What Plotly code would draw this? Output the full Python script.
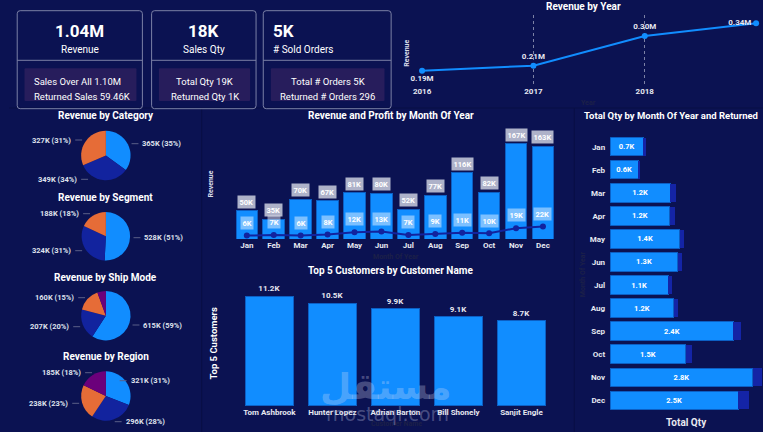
import plotly.graph_objects as go

W, H = 763, 432
def px(x): return x / W
def py(y): return 1 - y / H

BG = "#0b1252"
BLUE = "#118dff"; DBLUE = "#12239e"; ORANGE = "#e66c37"; PURPLE = "#6b007b"
FONT = "Roboto, 'Open Sans', 'DejaVu Sans', sans-serif"
DARKTXT = "#1c2048"

# ---------------- data ----------------
kpi_values = ["1.04M", "18K", "5K"]
kpi_names = ["Revenue", "Sales Qty", "# Sold Orders"]
kpi_line1 = ["Sales Over All 1.10M", "Total Qty 19K", "Total # Orders 5K"]
kpi_line2 = ["Returned Sales 59.46K", "Returned Qty 1K", "Returned # Orders 296"]

years = [2016, 2017, 2018, 2019]
year_revenue = [0.19, 0.206, 0.30, 0.34]          # millions
year_labels = ["0.19M", "0.21M", "0.30M", "0.34M"]

months = ["Jan", "Feb", "Mar", "Apr", "May", "Jun", "Jul", "Aug", "Sep", "Oct", "Nov", "Dec"]
month_revenue = [50, 35, 70, 67, 81, 80, 52, 77, 116, 82, 167, 163]   # K
month_profit = [6, 7, 6, 8, 12, 13, 7, 9, 11, 10, 19, 22]             # K

customers = ["Tom Ashbrook", "Hunter Lopez", "Adrian Barton", "Bill Shonely", "Sanjit Engle"]
customer_revenue = [11.2, 10.5, 9.9, 9.1, 8.7]                        # K

qty_sold = [0.65, 0.55, 1.18, 1.17, 1.37, 1.33, 1.14, 1.25, 2.42, 1.48, 2.80, 2.51]   # K
qty_returned = [0.045, 0.03, 0.11, 0.10, 0.08, 0.08, 0.08, 0.08, 0.15, 0.12, 0.18, 0.21]
qty_labels = ["0.7K", "0.6K", "1.2K", "1.2K", "1.4K", "1.3K", "1.1K", "1.2K", "2.4K", "1.5K", "2.8K", "2.5K"]

category_names = ["Technology", "Furniture", "Office Supplies"]
category_values = [365, 349, 327]
segment_names = ["Consumer", "Corporate", "Home Office"]
segment_values = [528, 324, 188]
shipmode_names = ["Standard Class", "Second Class", "First Class", "Same Day"]
shipmode_values = [615, 207, 160, 58]
region_names = ["West", "East", "Central", "South"]
region_values = [321, 296, 238, 185]

pie_colors = [BLUE, DBLUE, ORANGE, PURPLE]

fig = go.Figure()
shapes = []
ann = []

def rrect_path(x0, y0, x1, y1, r):
    def P(x, y): return f"{px(x):.5f},{py(y):.5f}"
    return (f"M {P(x0+r,y0)} L {P(x1-r,y0)} Q {P(x1,y0)} {P(x1,y0+r)} "
            f"L {P(x1,y1-r)} Q {P(x1,y1)} {P(x1-r,y1)} L {P(x0+r,y1)} "
            f"Q {P(x0,y1)} {P(x0,y1-r)} L {P(x0,y0+r)} Q {P(x0,y0)} {P(x0+r,y0)} Z")

def text(x, y, s, size=9, color="white", bold=False, xanchor="center", angle=0, family=FONT):
    ann.append(dict(x=px(x), y=py(y), xref="paper", yref="paper", text=(f"<b>{s}</b>" if bold else s),
                    showarrow=False, xanchor=xanchor, yanchor="middle", textangle=angle,
                    font=dict(size=size, color=color, family=family)))

# ---------------- panel separators ----------------
for (x0, y0, x1, y1) in [(195, 108, 195, 432), (572, 108, 572, 432), (0, 108, 763, 108)]:
    shapes.append(dict(type="line", xref="paper", yref="paper", x0=px(x0), y0=py(y0), x1=px(x1), y1=py(y1),
                       line=dict(color="#080e44", width=1)))

# ---------------- KPI cards ----------------
cards = [(8.3, 135, 15.7, 129), (144.3, 250, 151.7, 244), (257.3, 386.7, 265, 380)]
for i, (cx0, cx1, ix0, ix1) in enumerate(cards):
    shapes.append(dict(type="path", path=rrect_path(ix0, 68.3, ix1, 101, 1), xref="paper", yref="paper",
                       fillcolor="#271d5c", line=dict(width=0), layer="below"))
    shapes.append(dict(type="path", path=rrect_path(cx0, 10.7, cx1, 108.7, 3), xref="paper", yref="paper",
                       fillcolor="rgba(0,0,0,0)", line=dict(color="#7b80a6", width=1)))
    shapes.append(dict(type="line", xref="paper", yref="paper", x0=px(cx0), x1=px(cx1), y0=py(60.3), y1=py(60.3),
                       line=dict(color="#7b80a6", width=1)))
    if i == 2:
        text(265.5, 31, kpi_values[i], size=17, bold=True, xanchor="left")
        text(265, 50, kpi_names[i], size=10, xanchor="left")
    else:
        mid = (cx0 + cx1) / 2
        text(mid, 31, kpi_values[i], size=17, bold=True)
        text(mid, 50, kpi_names[i], size=10)
    if i == 0:
        text(23.3, 81.3, kpi_line1[i], size=9.5, xanchor="left")
        text(23.3, 96, kpi_line2[i], size=9.5, xanchor="left")
    else:
        mid = (ix0 + ix1) / 2
        text(mid, 81.3, kpi_line1[i], size=9.5)
        text(mid, 96, kpi_line2[i], size=9.5)

# ---------------- Revenue by Year ----------------
fig.add_trace(go.Scatter(x=years, y=year_revenue, mode="lines+markers+text", text=year_labels,
                         textposition=["bottom center", "top center", "top center", "middle left"],
                         textfont=dict(size=8, color="#e8e8f0", family=FONT, weight="bold"),
                         line=dict(color=BLUE, width=2), marker=dict(size=6, color=BLUE),
                         cliponaxis=False, xaxis="x", yaxis="y", showlegend=False))
text(581.7, 6.7, "Revenue by Year", size=10, bold=True)
text(403.3, 53.3, "Revenue", size=7, bold=True, angle=-90, color="#d8dbe8")
text(586.7, 102.7, "Year", size=7, bold=True, color=DARKTXT)

# ---------------- Revenue and Profit by Month ----------------
fig.add_trace(go.Bar(x=months, y=month_revenue, width=0.8, marker=dict(color=BLUE, line=dict(color="#0c5fc4", width=1)),
                     xaxis="x2", yaxis="y2", showlegend=False, hoverinfo="skip"))
fig.add_trace(go.Scatter(x=months, y=month_profit, mode="lines+markers", line=dict(color=DBLUE, width=2),
                         marker=dict(size=6, color=DBLUE), xaxis="x2", yaxis="y2", showlegend=False, cliponaxis=False))
for m, v in zip(months, month_revenue):
    ann.append(dict(x=m, y=v, xref="x2", yref="y2", yshift=9, text=f"<b>{v}K</b>", showarrow=False,
                    bgcolor="#aeb2c9", borderpad=1.5, font=dict(size=7.5, color="white", family=FONT)))
for m, v in zip(months, month_profit):
    ann.append(dict(x=m, y=v, xref="x2", yref="y2", yshift=12.7, text=f"<b>{v}K</b>", showarrow=False,
                    bgcolor="rgba(255,255,255,0.45)", borderpad=1.5, font=dict(size=7.5, color="white", family=FONT)))
text(386.7, 115.7, "Revenue and Profit by Month Of Year", size=10, bold=True)
text(204, 184, "Revenue", size=7, bold=True, angle=-90, color="#d8dbe8")
text(391.7, 256.7, "Month Of Year", size=7, bold=True, color=DARKTXT)

# ---------------- Top 5 Customers ----------------
fig.add_trace(go.Bar(x=customers, y=customer_revenue, width=0.77, text=[f"{v:.1f}K" for v in customer_revenue],
                     textposition="outside", textfont=dict(size=8, color="#e8e8f0", family=FONT, weight="bold"),
                     marker=dict(color=BLUE, line=dict(color="#0c5fc4", width=1)), cliponaxis=False,
                     xaxis="x3", yaxis="y3", showlegend=False))
text(385.7, 270, "Top 5 Customers by Customer Name", size=10, bold=True)
text(206, 343, "Top 5 Customers", size=9.5, bold=True, angle=-90)
text(391.7, 424, "Customer Name", size=7, bold=True, color=DARKTXT)

# ---------------- Total Qty by Month ----------------
fig.add_trace(go.Bar(y=months, x=qty_sold, orientation="h", width=0.8, text=qty_labels, textposition="inside",
                     insidetextanchor="middle", textfont=dict(size=7.5, color="white", family=FONT, weight="bold"),
                     marker=dict(color=BLUE, line=dict(color="#0c5fc4", width=1)),
                     xaxis="x4", yaxis="y4", showlegend=False))
fig.add_trace(go.Bar(y=months, x=qty_returned, orientation="h", width=0.8, marker=dict(color="#1424a6", line=dict(width=0)),
                     xaxis="x4", yaxis="y4", showlegend=False))
text(580, 115.7, "Total Qty by Month Of Year and Returned", size=9.5, bold=True, xanchor="left")
text(581, 274, "Month Of Year", size=7, bold=True, angle=-90, color=DARKTXT)
text(685.7, 422, "Total Qty", size=10, bold=True, color="#e8e8f0")

# ---------------- Pies ----------------
def pct_labels(vals):
    s = sum(vals)
    return [f"{v}K ({round(v / s * 100)}%)" for v in vals]

pies = [
    ("Revenue by Category", category_names, category_values, 98, 155.5, 25, 115.7,
     [(133, 143.7, "left"), (71, 179.3, "right"), (65, 140, "right")]),
    ("Revenue by Segment", segment_names, segment_values, 98, 236.2, 24.5, 197.3,
     [(135, 237.7, "left"), (65, 250.7, "right"), (73, 213.7, "right")]),
    ("Revenue by Ship Mode", shipmode_names, shipmode_values, 98, 315.7, 25, 277,
     [(134, 325, "left"), (63, 326.7, "right"), (68, 297.7, "right"), None]),
    ("Revenue by Region", region_names, region_values, 98, 396, 25, 356.3,
     [(121, 380.7, "left"), (116, 421.7, "left"), (62, 403.3, "right"), (75, 372.7, "right")]),
]
for title, names, vals, cx, cy, r, ty, lpos in pies:
    fig.add_trace(go.Pie(labels=names, values=vals, sort=False, direction="clockwise", rotation=0,
                         marker=dict(colors=pie_colors[:len(vals)], line=dict(width=0)), textinfo="none",
                         domain=dict(x=[px(cx - r), px(cx + r)], y=[py(cy + r), py(cy - r)]), showlegend=False))
    text(cx, ty, title, size=10, bold=True)
    labs = pct_labels(vals)
    for lab, pos in zip(labs, lpos):
        if pos is None:
            continue
        x, y, side = pos
        if side == "right":
            text(x, y, lab, size=7.5, bold=True, xanchor="right", color="#dfe1ec")
            shapes.append(dict(type="line", xref="paper", yref="paper", x0=px(x + 2), x1=px(x + 9),
                               y0=py(y), y1=py(y), line=dict(color="#5a5f88", width=1)))
        else:
            text(x, y, lab, size=7.5, bold=True, xanchor="left", color="#dfe1ec")
            shapes.append(dict(type="line", xref="paper", yref="paper", x0=px(x - 9), x1=px(x - 2),
                               y0=py(y), y1=py(y), line=dict(color="#5a5f88", width=1)))

# ---------------- watermark ----------------
text(381, 386, "مستقل", size=36, bold=True, color="rgba(215,220,245,0.30)", family="'DejaVu Sans', sans-serif")
text(383, 414, "mostaql.com", size=19, color="rgba(215,220,245,0.30)", family="'DejaVu Sans', sans-serif")

# ---------------- axes ----------------
hidden = dict(showgrid=False, zeroline=False, showticklabels=False, showline=False, ticks="")
tickfont = dict(size=8, color="#e6e8f0", family=FONT, weight="bold")

fig.update_layout(
    width=W, height=H, margin=dict(l=0, r=0, t=0, b=0), autosize=False,
    paper_bgcolor=BG, plot_bgcolor="rgba(0,0,0,0)", barmode="stack",
    font=dict(family=FONT, color="white"),
    shapes=shapes, annotations=ann,
    xaxis=dict(domain=[px(418), px(756)], range=[2016, 2019], tickvals=years, ticktext=[str(y) for y in years],
               showgrid=True, gridcolor="#7c81a6", griddash="dot", gridwidth=1, zeroline=False,
               tickfont=tickfont, ticks="", anchor="y"),
    yaxis=dict(domain=[py(85), py(15)], range=[0.1448, 0.3663], anchor="x", **hidden),
    xaxis2=dict(domain=[px(219.8), px(561.2)], anchor="y2", tickfont=tickfont, showgrid=False, zeroline=False, ticks=""),
    yaxis2=dict(domain=[py(239), py(139)], range=[0, 175.7], anchor="x2", **hidden),
    xaxis3=dict(domain=[px(231.6), px(550.4)], anchor="y3", tickfont=tickfont, showgrid=False, zeroline=False, ticks=""),
    yaxis3=dict(domain=[py(405.7), py(285)], range=[0, 12.35], anchor="x3", **hidden),
    xaxis4=dict(domain=[px(608.3), px(763)], range=[0, 3.0], anchor="y4", **hidden),
    yaxis4=dict(domain=[py(411.8), py(135.2)], anchor="x4", autorange="reversed", tickfont=tickfont,
                showgrid=False, zeroline=False, ticks="", ticklabelstandoff=4),
)

fig.write_html("out.html")
